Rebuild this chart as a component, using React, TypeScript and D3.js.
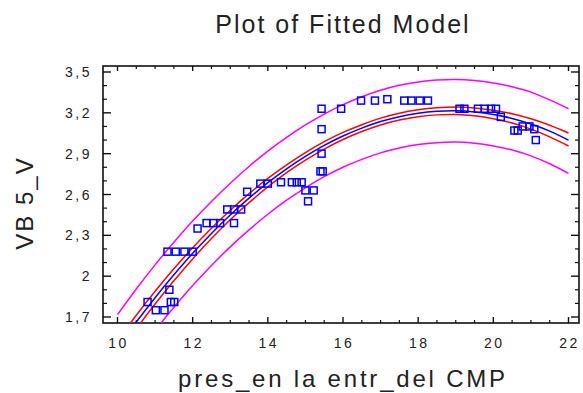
import React from "react";
import * as d3 from "d3";

// observed points (pres_en la entr_del CMP, VB 5_V)
const obsX = [
  10.8, 11.02, 11.25, 11.38, 11.42, 11.51, 11.33, 11.55, 11.78, 12.0,
  12.13, 12.37, 12.55, 12.73, 13.1, 12.92, 13.1, 13.29, 13.45, 13.8,
  14.0, 14.35, 14.64, 14.77, 14.9, 15.0, 15.22, 15.07, 15.4, 15.46,
  15.43, 15.43, 15.43, 15.95, 16.48, 16.85, 17.18, 17.63, 17.82, 18.04,
  18.26, 19.1, 19.23, 19.59, 19.77, 19.94, 20.07, 20.2, 20.56, 20.65,
  20.78, 20.96, 21.09, 21.13,
];
const obsY = [
  1.81, 1.75, 1.75, 1.9, 1.81, 1.81, 2.18, 2.18, 2.18, 2.18,
  2.35, 2.39, 2.39, 2.39, 2.39, 2.49, 2.49, 2.49, 2.62, 2.68,
  2.68, 2.69, 2.69, 2.69, 2.69, 2.63, 2.63, 2.55, 2.77, 2.77,
  2.9, 3.08, 3.23, 3.23, 3.29, 3.29, 3.3, 3.29, 3.29, 3.29,
  3.29, 3.23, 3.23, 3.23, 3.23, 3.23, 3.23, 3.17, 3.07, 3.07,
  3.1, 3.1, 3.08, 3.0,
];

// fitted model and limits, read along the x grid
const fitX = [
  10, 10.5, 11, 11.5, 12, 12.5, 13, 13.5, 14, 14.5, 15, 15.5, 16, 16.5, 17,
  17.5, 18, 18.5, 19, 19.5, 20, 20.5, 21, 21.5, 22,
];
const fitY = [
  1.472, 1.663, 1.842, 2.01, 2.168, 2.314, 2.449, 2.573, 2.687, 2.789, 2.88,
  2.961, 3.03, 3.088, 3.136, 3.172, 3.197, 3.211, 3.215, 3.207, 3.188, 3.159,
  3.118, 3.066, 3.0,
];
const confUpper = [
  1.527, 1.713, 1.889, 2.054, 2.209, 2.352, 2.484, 2.606, 2.718, 2.818, 2.908,
  2.988, 3.056, 3.113, 3.161, 3.197, 3.222, 3.237, 3.242, 3.236, 3.219, 3.193,
  3.156, 3.109, 3.052,
];
const confLower = [
  1.417, 1.613, 1.795, 1.966, 2.127, 2.276, 2.414, 2.54, 2.656, 2.76, 2.852,
  2.934, 3.004, 3.063, 3.111, 3.147, 3.172, 3.185, 3.188, 3.178, 3.157, 3.125,
  3.08, 3.023, 2.956,
];
const predUpper = [
  1.717, 1.906, 2.083, 2.249, 2.405, 2.549, 2.683, 2.806, 2.919, 3.02, 3.111,
  3.191, 3.26, 3.318, 3.366, 3.402, 3.427, 3.441, 3.445, 3.437, 3.419, 3.391,
  3.352, 3.295, 3.23,
];
const predLower = [
  1.227, 1.42, 1.601, 1.771, 1.931, 2.079, 2.215, 2.34, 2.455, 2.558, 2.649,
  2.731, 2.8, 2.858, 2.906, 2.942, 2.967, 2.981, 2.985, 2.977, 2.957, 2.927,
  2.884, 2.826, 2.755,
];

const xTicks = [10, 12, 14, 16, 18, 20, 22];
const yTicks = [1.7, 2.0, 2.3, 2.6, 2.9, 3.2, 3.5];
const yTickLabels = ["1,7", "2", "2,3", "2,6", "2,9", "3,2", "3,5"];

const W = 583;
const H = 393;
const frame = { left: 103, right: 579, top: 66, bottom: 323 };

export default function App() {
  const x = d3.scaleLinear().domain([10, 22]).range([117.5, 568.5]);
  const y = d3.scaleLinear().domain([1.7, 3.5]).range([317, 72]);

  const line = d3
    .line<number>()
    .x((_, i) => x(fitX[i]))
    .y((d) => y(d))
    .curve(d3.curveCatmullRom);

  const xMinor = d3.range(20, 45).map((v) => v / 2).filter((v) => v % 2 !== 0);
  const yMinor = d3.range(17, 36).map((v) => v / 10).filter((v) => Math.round(v * 10) % 3 !== 2);

  const font = "'Liberation Sans', Arial, sans-serif";
  const ink = "#222";

  return (
    <svg
      width={W}
      height={H}
      style={{ position: "absolute", left: 0, top: 0, background: "#fff" }}
      fontFamily={font}
    >
      <defs>
        <clipPath id="plotClip">
          <rect
            x={frame.left}
            y={frame.top}
            width={frame.right - frame.left}
            height={frame.bottom - frame.top}
          />
        </clipPath>
      </defs>

      <text x={343} y={33} textAnchor="middle" fontSize={25} letterSpacing={2} fill={ink}>
        Plot of Fitted Model
      </text>

      {/* frame */}
      <rect
        x={frame.left}
        y={frame.top}
        width={frame.right - frame.left}
        height={frame.bottom - frame.top}
        fill="none"
        stroke="#111"
        strokeWidth={1.6}
      />

      {/* x ticks bottom + top */}
      {xTicks.map((t) => (
        <g key={"xt" + t}>
          <line x1={x(t)} x2={x(t)} y1={frame.bottom} y2={frame.bottom - 6} stroke="#111" strokeWidth={1.4} />
          <line x1={x(t)} x2={x(t)} y1={frame.top} y2={frame.top + 5} stroke="#111" strokeWidth={1.4} />
          <text x={x(t) + 1} y={348} textAnchor="middle" fontSize={14} letterSpacing={2.5} fill={ink}>
            {t}
          </text>
        </g>
      ))}
      {xMinor.map((t) => (
        <g key={"xm" + t}>
          <line x1={x(t)} x2={x(t)} y1={frame.bottom} y2={frame.bottom - 3} stroke="#111" strokeWidth={1.2} />
          <line x1={x(t)} x2={x(t)} y1={frame.top} y2={frame.top + 3} stroke="#111" strokeWidth={1.2} />
        </g>
      ))}

      {/* y ticks left + right */}
      {yTicks.map((t, i) => (
        <g key={"yt" + t}>
          <line x1={frame.left} x2={frame.left + 8} y1={y(t)} y2={y(t)} stroke="#111" strokeWidth={1.4} />
          <line x1={frame.right} x2={frame.right - 8} y1={y(t)} y2={y(t)} stroke="#111" strokeWidth={1.4} />
          <text x={92} y={y(t) + 5} textAnchor="end" fontSize={14} letterSpacing={2.5} fill={ink}>
            {yTickLabels[i]}
          </text>
        </g>
      ))}
      {yMinor.map((t) => (
        <g key={"ym" + t}>
          <line x1={frame.left} x2={frame.left + 4} y1={y(t)} y2={y(t)} stroke="#111" strokeWidth={1.2} />
          <line x1={frame.right} x2={frame.right - 4} y1={y(t)} y2={y(t)} stroke="#111" strokeWidth={1.2} />
        </g>
      ))}

      <g clipPath="url(#plotClip)" fill="none">
        <path d={line(predUpper) ?? ""} stroke="#ff00ff" strokeWidth={1.5} />
        <path d={line(predLower) ?? ""} stroke="#ff00ff" strokeWidth={1.5} />
        <path d={line(confUpper) ?? ""} stroke="#ff0000" strokeWidth={1.5} />
        <path d={line(confLower) ?? ""} stroke="#ff0000" strokeWidth={1.5} />
        <path d={line(fitY) ?? ""} stroke="#0000ff" strokeWidth={1.5} />
        {obsX.map((v, i) => (
          <rect
            key={"p" + i}
            x={x(v) - 3.5}
            y={y(obsY[i]) - 3.5}
            width={7}
            height={7}
            stroke="#0000ff"
            strokeWidth={1.5}
          />
        ))}
      </g>

      <text x={343} y={387} textAnchor="middle" fontSize={24} letterSpacing={2.8} fill={ink}>
        pres_en la entr_del CMP
      </text>
      <text
        transform="translate(33,203) rotate(-90)"
        textAnchor="middle"
        fontSize={24}
        letterSpacing={2}
        fill={ink}
      >
        VB 5_V
      </text>
    </svg>
  );
}
